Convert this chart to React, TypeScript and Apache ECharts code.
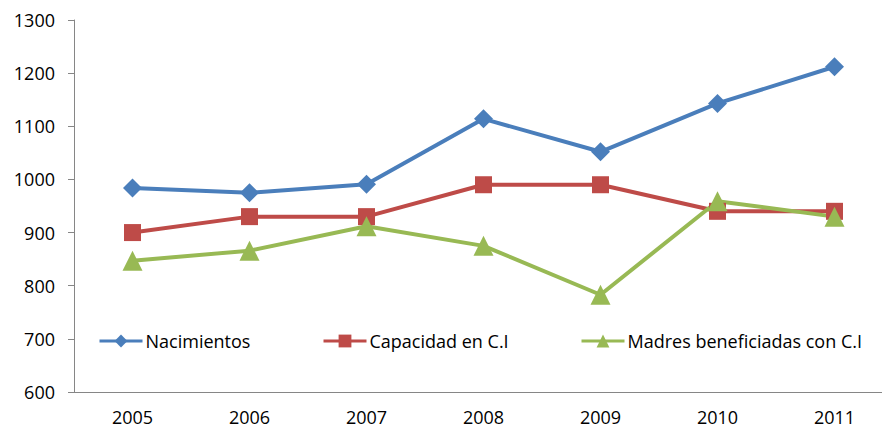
import React, { useEffect, useRef } from "react";
import * as echarts from "echarts";

const categories = ["2005", "2006", "2007", "2008", "2009", "2010", "2011"];
const nacimientos = [984, 975, 991, 1114, 1052, 1143, 1212];
const capacidad = [900, 930, 930, 990, 990, 940, 940];
const madres = [847, 866, 912, 875, 783, 959, 930];
const yTicks = { min: 600, max: 1300, interval: 100 };
const seriesNames = ["Nacimientos", "Capacidad en C.I", "Madres beneficiadas con C.I"];

const FONT = "'Open Sans', sans-serif";

export default function App() {
  const ref = useRef<HTMLDivElement>(null);
  useEffect(() => {
    const chart = echarts.init(ref.current!, null, { renderer: "svg" });
    const mk = (name: string, data: number[], color: string, symbol: string, size: number) => ({
      name,
      type: "line",
      data,
      symbol,
      symbolSize: size,
      lineStyle: { color, width: 4 },
      itemStyle: { color },
    });
    const legendLefts = [98, 322, 580];
    chart.setOption({
      animation: false,
      backgroundColor: "#fff",
      textStyle: { fontFamily: FONT },
      grid: { left: 74, width: 819, top: 20, bottom: 37, outerBoundsMode: "none", containLabel: false },
      legend: seriesNames.map((n, i) => ({
        left: legendLefts[i],
        top: 332,
        padding: 0,
        itemWidth: 43,
        itemHeight: 16,
        lineStyle: { width: 3 },
        textStyle: { fontFamily: FONT, fontSize: 18, color: "#000", padding: [0, 0, 0, -2] },
        data: [n],
      })),
      xAxis: {
        type: "category",
        data: categories,
        axisLine: { lineStyle: { color: "#868686", width: 1 } },
        axisTick: { length: 6, lineStyle: { color: "#868686" } },
        axisLabel: { color: "#000", fontSize: 18, fontFamily: FONT, margin: 16 },
      },
      yAxis: {
        type: "value",
        min: yTicks.min,
        max: yTicks.max,
        interval: yTicks.interval,
        splitLine: { show: false },
        axisLine: { show: true, lineStyle: { color: "#868686", width: 1 } },
        axisTick: { show: true, length: 6, lineStyle: { color: "#868686" } },
        axisLabel: { color: "#000", fontSize: 18, fontFamily: FONT, margin: 19, formatter: (v: number) => String(v) },
      },
      series: [
        mk(seriesNames[0], nacimientos, "#4A7EBB", "diamond", 19),
        mk(seriesNames[1], capacidad, "#BE4B48", "rect", 17),
        mk(seriesNames[2], madres, "#98B954", "triangle", 20),
      ],
    });
    return () => chart.dispose();
  }, []);
  return <div ref={ref} style={{ width: 882, height: 429, position: "absolute", left: 0, top: 0 }} />;
}
